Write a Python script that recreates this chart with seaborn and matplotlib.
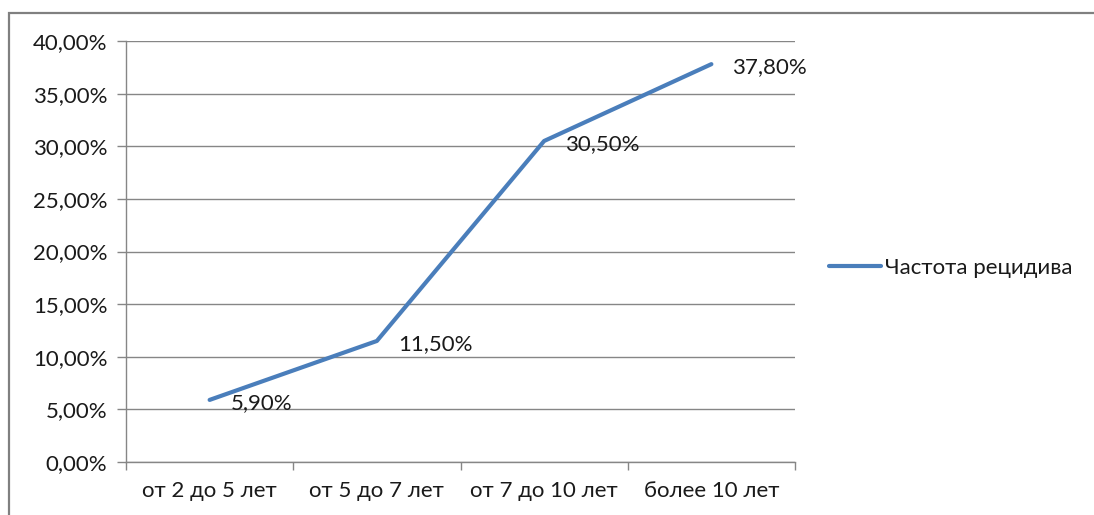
import numpy as np
import pandas as pd
import matplotlib
matplotlib.use("Agg")
import matplotlib.pyplot as plt
import seaborn as sns
from matplotlib.patches import Rectangle
from matplotlib.ticker import FuncFormatter, FixedLocator

# =========================
# DATA
# =========================
categories = ["от 2 до 5 лет", "от 5 до 7 лет", "от 7 до 10 лет", "более 10 лет"]
values = [5.90, 11.50, 30.50, 37.80]
series_name = "Частота рецидива"
label_texts = ["5,90%", "11,50%", "30,50%", "37,80%"]

LINE_COLOR = "#4A7EBB"
GRID_COLOR = "#868686"
TEXT_COLOR = "#1a1a1a"
FONT = ["Lato", "DejaVu Sans"]
FS = 16

sns.set_style("white")
plt.rcParams["font.family"] = FONT

df = pd.DataFrame({"pos": np.arange(len(categories)), "value": values,
                   "series": series_name})

fig = plt.figure(figsize=(10.94, 5.15), dpi=100)
ax = fig.add_axes([126 / 1094, 1 - 462 / 515, (795 - 126) / 1094, (462 - 41) / 515])

sns.lineplot(data=df, x="pos", y="value", hue="series", palette=[LINE_COLOR],
             linewidth=3, ax=ax, legend=True)

ax.set_xlim(-0.5, len(categories) - 0.5)
ax.set_ylim(0, 40)
ax.set_yticks(np.arange(0, 40.1, 5))
ax.yaxis.set_major_formatter(FuncFormatter(lambda v, p: f"{v:.2f}%".replace(".", ",")))
ax.set_xticks(np.arange(len(categories)))
ax.set_xticklabels(categories)
ax.xaxis.set_minor_locator(FixedLocator(np.arange(-0.5, len(categories), 1)))
ax.set_xlabel("")
ax.set_ylabel("")

ax.grid(axis="y", color=GRID_COLOR, linewidth=1)
ax.set_axisbelow(True)
for side in ["top", "right"]:
    ax.spines[side].set_visible(False)
for side in ["left", "bottom"]:
    ax.spines[side].set_color(GRID_COLOR)
    ax.spines[side].set_linewidth(1)

ax.tick_params(axis="y", which="major", length=6.5, width=1, color=GRID_COLOR,
               direction="out", pad=7, labelsize=FS, labelcolor=TEXT_COLOR, left=True)
ax.tick_params(axis="x", which="major", length=0, pad=14, labelsize=FS,
               labelcolor=TEXT_COLOR)
ax.tick_params(axis="x", which="minor", length=6, width=1, color=GRID_COLOR,
               direction="out", bottom=True)

# data labels
for x, v, t in zip(df["pos"], values, label_texts):
    ax.annotate(t, (x, v), xytext=(15, -2), textcoords="offset points",
                ha="left", va="center", fontsize=FS, color=TEXT_COLOR)

# legend
leg = ax.legend(loc="center left", bbox_to_anchor=(829 / 1094, 1 - 268 / 515),
                bbox_transform=fig.transFigure, frameon=False, fontsize=FS,
                borderpad=0, borderaxespad=0, handlelength=2.35, handletextpad=0.18)
for t in leg.get_texts():
    t.set_color(TEXT_COLOR)

# outer chart frame
fig.patches.append(Rectangle((9 / 1094, -0.02), 1.05, 1 - 13 / 515 + 0.02,
                             transform=fig.transFigure, fill=False,
                             edgecolor="#808080", linewidth=1.6))

fig.savefig("out.png", dpi=100)
